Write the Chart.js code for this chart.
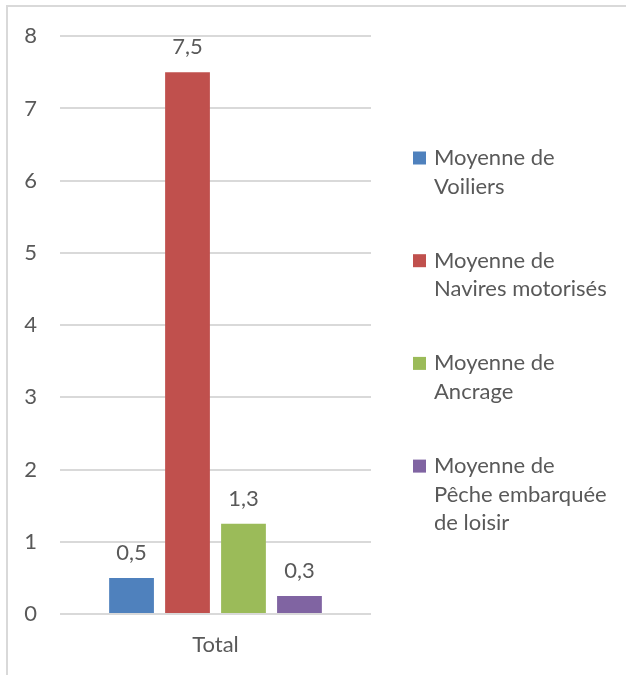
<!DOCTYPE html>
<html>
<head>
<meta charset="utf-8">
<script src="https://cdn.jsdelivr.net/npm/chart.js@4.4.1/dist/chart.umd.min.js"></script>
<style>
  html, body { margin: 0; padding: 0; background: #ffffff; }
  #wrap { width: 626px; height: 675px; position: relative; }
</style>
</head>
<body>
<div id="wrap"><canvas id="chart" width="626" height="675"></canvas></div>
<script>
// Categories, series (legend text split into its lines) and values
const categories = ['Total'];
const seriesLines = [
  ['Moyenne de', 'Voiliers'],
  ['Moyenne de', 'Navires motorisés'],
  ['Moyenne de', 'Ancrage'],
  ['Moyenne de', 'Pêche embarquée', 'de loisir']
];
const voiliers = [0.5];
const naviresMotorises = [7.5];
const ancrage = [1.25];
const pecheLoisir = [0.25];
const seriesColors = ['#4F81BD', '#C0504D', '#9BBB59', '#8064A2'];
const yTicks = [0, 1, 2, 3, 4, 5, 6, 7, 8];

const FONT = 'Lato, "Open Sans", sans-serif';
const FONT_SIZE = 22;
const TEXT = '#595959';
const GRID = '#d9d9d9';

// French decimal format with one digit
const fmt = v => v.toFixed(1).replace('.', ',');

// Frame, data labels and a multi-line legend on the right
const decorations = {
  id: 'decorations',
  beforeDraw(chart) {
    const ctx = chart.ctx;
    ctx.save();
    ctx.fillStyle = '#ffffff';
    ctx.fillRect(0, 0, chart.width, chart.height);
    ctx.strokeStyle = GRID;
    ctx.lineWidth = 2;
    ctx.beginPath();
    ctx.moveTo(7, chart.height);
    ctx.lineTo(7, 6);
    ctx.lineTo(chart.width, 6);
    ctx.stroke();
    ctx.restore();
  },
  afterDatasetsDraw(chart) {
    const ctx = chart.ctx;
    ctx.save();
    ctx.font = FONT_SIZE + 'px ' + FONT;
    ctx.fillStyle = TEXT;
    ctx.textAlign = 'center';
    ctx.textBaseline = 'middle';
    chart.data.datasets.forEach((ds, i) => {
      const meta = chart.getDatasetMeta(i);
      meta.data.forEach((bar, j) => {
        ctx.fillText(fmt(ds.data[j]), bar.x, bar.y - 25);
      });
    });
    ctx.restore();
  },
  afterDraw(chart) {
    const ctx = chart.ctx;
    ctx.save();
    ctx.font = FONT_SIZE + 'px ' + FONT;
    ctx.textAlign = 'left';
    ctx.textBaseline = 'middle';
    const boxX = 413, textX = 434, lineH = 28.5;
    let y = 158;
    chart.data.datasets.forEach((ds, i) => {
      ctx.fillStyle = ds.backgroundColor;
      ctx.fillRect(boxX, y - 6.5, 13, 13);
      ctx.fillStyle = TEXT;
      seriesLines[i].forEach((ln, k) => ctx.fillText(ln, textX, y + k * lineH));
      y += 102.7;
    });
    ctx.restore();
  }
};

const seriesValues = [voiliers, naviresMotorises, ancrage, pecheLoisir];

new Chart(document.getElementById('chart'), {
  type: 'bar',
  data: {
    labels: categories,
    datasets: seriesLines.map((lines, i) => ({
      label: lines.join(' '),
      data: seriesValues[i],
      backgroundColor: seriesColors[i],
      borderWidth: 0,
      categoryPercentage: 0.72,
      barPercentage: 0.8
    }))
  },
  options: {
    responsive: false,
    animation: false,
    devicePixelRatio: 1,
    layout: { padding: { top: 36, right: 255, bottom: 0, left: 0 } },
    plugins: {
      legend: { display: false },
      tooltip: { enabled: false }
    },
    scales: {
      x: {
        grid: { display: false, drawTicks: false },
        border: { display: false },
        ticks: { color: TEXT, font: { family: FONT, size: FONT_SIZE }, padding: 18 },
        afterFit(scale) { scale.height = 61; }
      },
      y: {
        min: 0,
        max: 8,
        afterBuildTicks(scale) { scale.ticks = yTicks.map(v => ({ value: v })); },
        grid: { color: GRID, lineWidth: 2, drawTicks: false },
        border: { display: false },
        ticks: {
          color: TEXT,
          font: { family: FONT, size: FONT_SIZE },
          padding: 23,
          callback: v => String(v)
        },
        afterFit(scale) { scale.width = 60; }
      }
    }
  },
  plugins: [decorations]
});
</script>
</body>
</html>
